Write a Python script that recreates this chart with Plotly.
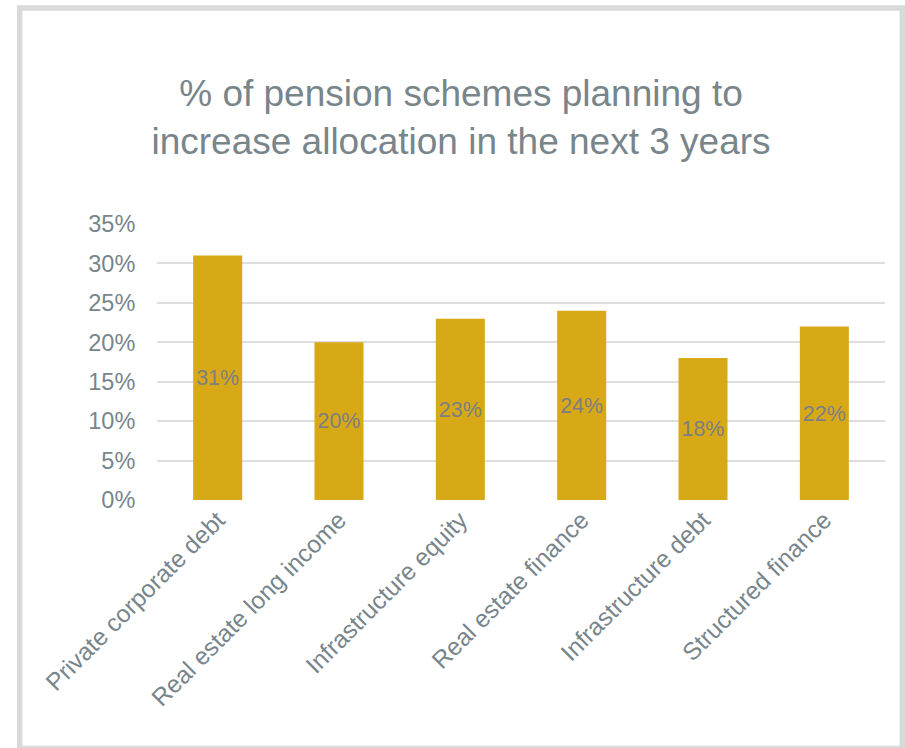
import plotly.graph_objects as go

# Survey results: share of pension schemes planning to increase allocation
categories = [
    "Private corporate debt",
    "Real estate long income",
    "Infrastructure equity",
    "Real estate finance",
    "Infrastructure debt",
    "Structured finance",
]
shares = [0.31, 0.20, 0.23, 0.24, 0.18, 0.22]
y_ticks = [0, 0.05, 0.10, 0.15, 0.20, 0.25, 0.30, 0.35]

W, H = 905, 748
M_L, M_R, M_T, M_B = 157, 20, 224, 248
plot_w = W - M_L - M_R
plot_h = H - M_T - M_B

FONT = "Arial, Liberation Sans, sans-serif"
AXIS_GREY = "#78858b"
LABEL_GREY = "#7b7f83"
GOLD = "#d8a917"
GRID = "#dedede"


def px_x(px):
    return (px - M_L) / plot_w


def px_y(py):
    return (H - M_B - py) / plot_h


fig = go.Figure(
    go.Bar(
        x=categories,
        y=shares,
        marker=dict(color=GOLD, line=dict(width=0)),
        text=[f"{v:.0%}" for v in shares],
        textposition="inside",
        insidetextanchor="middle",
        textangle=0,
        textfont=dict(family=FONT, size=23.5, color=LABEL_GREY),
        hoverinfo="skip",
    )
)

fig.update_layout(
    width=W,
    height=H,
    margin=dict(l=M_L, r=M_R, t=M_T, b=M_B, pad=0),
    paper_bgcolor="white",
    plot_bgcolor="white",
    bargap=0.596,
    showlegend=False,
    title=dict(
        text="% of pension schemes planning to<br>increase allocation in the next 3 years",
        font=dict(family=FONT, size=37, color=AXIS_GREY),
        x=461 / W,
        xanchor="center",
        xref="container",
        y=1 - 106 / H,
        yanchor="top",
        yref="container",
    ),
    xaxis=dict(
        tickangle=-45,
        tickfont=dict(family=FONT, size=24.5, color=AXIS_GREY),
        showgrid=False,
        showline=False,
        zeroline=False,
        ticks="",
    ),
    yaxis=dict(
        range=[0, 0.35],
        tickvals=y_ticks,
        tickformat=".0%",
        tickfont=dict(family=FONT, size=23.5, color=AXIS_GREY),
        showgrid=True,
        gridcolor=GRID,
        gridwidth=2,
        zeroline=False,
        showline=False,
        ticks="outside",
        ticklen=16,
        tickcolor="rgba(0,0,0,0)",
    ),
    shapes=[
        # light frame around the whole chart
        dict(
            type="rect",
            xref="paper",
            yref="paper",
            x0=px_x(19.7),
            x1=px_x(902.3),
            y0=px_y(8.1),
            y1=px_y(748.5),
            line=dict(color="#d9d9d9", width=5.5),
            fillcolor="rgba(0,0,0,0)",
            layer="below",
        )
    ],
)

fig.write_html("out.html")
